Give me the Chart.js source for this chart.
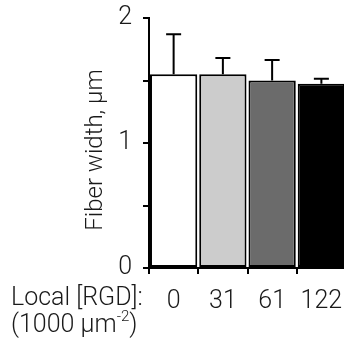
<!DOCTYPE html>
<html>
<head>
<meta charset="utf-8">
<script src="https://cdn.jsdelivr.net/npm/chart.js@4.4.0/dist/chart.umd.min.js"></script>
<style>
  html, body { margin: 0; padding: 0; background: #fff; overflow: hidden; }
  #wrap { width: 344px; height: 339px; overflow: hidden; }
  canvas { display: block; }
</style>
</head>
<body>
<div id="wrap"><canvas id="fiber" width="370" height="339"></canvas></div>
<script>
// Fiber width vs local RGD density
const rgdLabels = ['0', '31', '61', '122'];
const fiberMean = [1.55, 1.55, 1.50, 1.475];
const fiberErr = [0.32, 0.13, 0.165, 0.04];
const barColors = ['#ffffff', '#cccccc', '#6b6b6b', '#000000'];
const yTicks = [0, 0.5, 1, 1.5, 2];

const FONT = 'Roboto';
const TXT = '#1a1a1a';
const tickFont = { family: FONT, size: 25, weight: '300' };

const errorBars = {
  id: 'errorBars',
  afterDatasetsDraw(chart) {
    const { ctx } = chart;
    const y = chart.scales.y;
    const meta = chart.getDatasetMeta(0);
    ctx.save();
    ctx.strokeStyle = '#000';
    ctx.lineWidth = 2;
    meta.data.forEach((bar, i) => {
      const top = y.getPixelForValue(fiberMean[i] + fiberErr[i]);
      const base = y.getPixelForValue(fiberMean[i]);
      ctx.beginPath();
      ctx.moveTo(bar.x, base);
      ctx.lineTo(bar.x, top);
      ctx.moveTo(bar.x - 7.5, top);
      ctx.lineTo(bar.x + 7.5, top);
      ctx.stroke();
    });
    ctx.restore();
  },
  afterDraw(chart) {
    const { ctx } = chart;
    ctx.save();
    ctx.fillStyle = TXT;
    ctx.font = '300 24px ' + FONT;
    // y title
    ctx.translate(96, 150);
    ctx.rotate(-Math.PI / 2);
    ctx.textAlign = 'center';
    ctx.textBaseline = 'middle';
    ctx.fillText('Fiber width, µm', 0, 0);
    ctx.restore();

    ctx.save();
    ctx.fillStyle = TXT;
    ctx.font = '300 25px ' + FONT;
    ctx.textAlign = 'left';
    ctx.textBaseline = 'alphabetic';
    ctx.fillText('Local [RGD]:', 11, 305);
    const part = '(1000 µm';
    ctx.fillText(part, 11, 332);
    let x = 11 + ctx.measureText(part).width;
    ctx.font = '300 15px ' + FONT;
    ctx.fillText('-2', x, 321);
    x += ctx.measureText('-2').width;
    ctx.font = '300 25px ' + FONT;
    ctx.fillText(')', x, 332);
    ctx.restore();
  }
};

new Chart(document.getElementById('fiber'), {
  type: 'bar',
  data: {
    labels: rgdLabels,
    datasets: [{
      data: fiberMean,
      backgroundColor: barColors,
      borderColor: '#000',
      borderWidth: 2,
      borderSkipped: false,
      categoryPercentage: 1,
      barPercentage: 0.96,
    }],
  },
  options: {
    responsive: false, animation: false, devicePixelRatio: 1,
    layout: { padding: { top: 18, right: 24, left: 0, bottom: 0 } },
    plugins: { legend: { display: false }, tooltip: { enabled: false }, title: { display: false } },
    scales: {
      x: {
        offset: true,
        grid: { offset: true, drawOnChartArea: false, drawTicks: true, tickLength: 6, color: '#000', lineWidth: 2 },
        border: { display: true, color: '#000', width: 2 },
        ticks: { color: TXT, font: tickFont, padding: 13, maxRotation: 0, autoSkip: false },
        afterFit: (s) => { s.height = 71; },
      },
      y: {
        min: 0, max: 2,
        afterBuildTicks: (s) => { s.ticks = yTicks.map((v) => ({ value: v })); },
        ticks: { color: TXT, font: tickFont, padding: 11, callback: (v) => (Number.isInteger(v) ? v : '') },
        grid: { drawOnChartArea: false, drawTicks: true, tickLength: 6, color: '#000', lineWidth: 2 },
        border: { display: true, color: '#000', width: 2 },
        afterFit: (s) => { s.width = 149; s.paddingTop = 0; s.paddingBottom = 0; },
      },
    },
  },
  plugins: [errorBars],
});
</script>
</body>
</html>
